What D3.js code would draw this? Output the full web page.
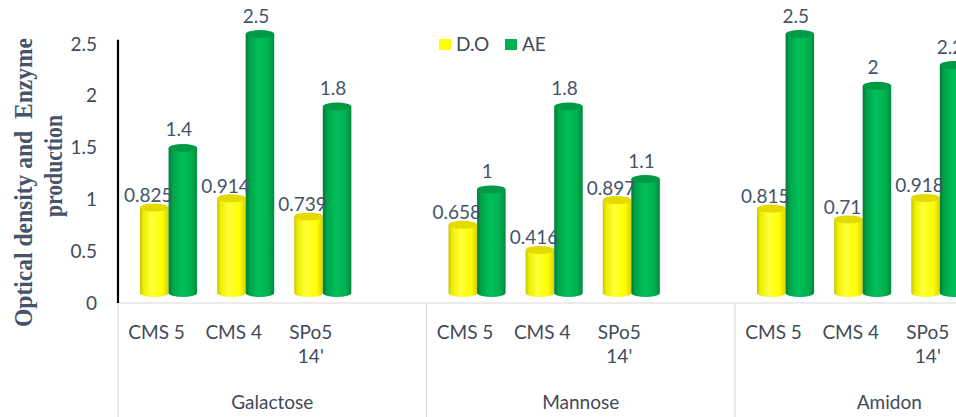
<!DOCTYPE html>
<html>
<head>
<meta charset="utf-8">
<script src="https://cdn.jsdelivr.net/npm/d3@7"></script>
<style>
  html, body { margin: 0; padding: 0; background: #ffffff; }
  svg { display: block; }
</style>
</head>
<body>
<svg id="chart" width="956" height="417"></svg>
<script>
// ---- data ----
const groups = ["Galactose", "Mannose", "Amidon"];
const strains = ["CMS 5", "CMS 4", "SPo5 14'"];
const seriesNames = ["D.O", "AE"];
const doValues = [
  [0.825, 0.914, 0.739],
  [0.658, 0.416, 0.897],
  [0.815, 0.71, 0.918]
];
const aeValues = [
  [1.4, 2.5, 1.8],
  [1, 1.8, 1.1],
  [2.5, 2, 2.2]
];
const yTicks = [0, 0.5, 1, 1.5, 2, 2.5];
const yTitleLines = ["Optical density and  Enzyme", "production"];

// ---- setup ----
const W = 956, H = 417;
const svg = d3.select("#chart");
const FONT = "Lato, 'Open Sans', sans-serif";
const textColor = "#3f4a5a";
const labelColor = "#44546a";
const gridColor = "#d9d9d9";

const plotLeft = 118, groupW = 308.5;
const y = d3.scaleLinear().domain([0, 2.5]).range([303, 44]);
const x0 = d3.scaleBand().domain(groups).range([plotLeft, plotLeft + groupW * groups.length]);
// each group has 4 slots: three strains and one empty slot
const x1 = d3.scaleBand().domain([...strains, "_blank"]).range([0, x0.bandwidth()]);
const depth = { dx: 12, dy: -10 };
const barW = x1.bandwidth() * 0.37;
const ry = 4;

// gradients
const defs = svg.append("defs");
function grad(id, stops) {
  const g = defs.append("linearGradient").attr("id", id)
    .attr("x1", "0%").attr("x2", "100%").attr("y1", "0%").attr("y2", "0%");
  stops.forEach(([o, c]) => g.append("stop").attr("offset", o).attr("stop-color", c));
}
grad("gYellow", [[0, "#c9c200"], [0.12, "#eeee00"], [0.4, "#ffff3a"], [0.78, "#ffff00"], [1, "#d9d200"]]);
grad("gGreen", [[0, "#007c37"], [0.15, "#00a449"], [0.45, "#00c05a"], [0.8, "#00b04f"], [1, "#008a3e"]]);
const seriesStyle = [
  { fill: "url(#gYellow)", top: "#e4da00", legend: "#ffff00", labelDx: -6, labelDy: -5.5 },
  { fill: "url(#gGreen)", top: "#009a45", legend: "#00b050", labelDx: -4, labelDy: -11.5 }
];

// ---- axes lines ----
svg.append("line")
  .attr("x1", plotLeft).attr("x2", W).attr("y1", y(0)).attr("y2", y(0))
  .attr("stroke", gridColor).attr("stroke-width", 1.2);
[...groups.map(g => x0(g)), x0(groups[groups.length - 1]) + x0.bandwidth()].forEach(xv => {
  svg.append("line")
    .attr("x1", xv).attr("x2", xv).attr("y1", y(0)).attr("y2", H)
    .attr("stroke", gridColor).attr("stroke-width", 1.2);
});

// y axis
const yAxis = d3.axisLeft(y).tickValues(yTicks).tickSize(0).tickPadding(21)
  .tickFormat(d3.format("~g"));
const gy = svg.append("g").attr("transform", `translate(${plotLeft},0)`).call(yAxis);
gy.select(".domain").remove();
gy.selectAll("text").attr("font-family", FONT).attr("font-size", 19).attr("fill", textColor);
svg.append("line")
  .attr("x1", plotLeft).attr("x2", plotLeft).attr("y1", y(2.54)).attr("y2", y(0))
  .attr("stroke", "#000").attr("stroke-width", 2.2);

// y title
yTitleLines.forEach((t, i) => {
  const cx = [32, 62][i], cy = [182.5, 166][i], len = [289, 102][i];
  svg.append("text")
    .attr("transform", `translate(${cx},${cy}) rotate(-90)`)
    .attr("text-anchor", "middle")
    .attr("font-family", "'Liberation Serif', 'Times New Roman', serif")
    .attr("font-weight", "bold").attr("font-size", 26)
    .attr("fill", "#44546a")
    .style("white-space", "pre")
    .attr("textLength", len).attr("lengthAdjust", "spacingAndGlyphs")
    .text(t);
});

// ---- category labels ----
groups.forEach(g => {
  strains.forEach(s => {
    const cx = x0(g) + x1(s) + x1.bandwidth() / 2;
    const words = s === "SPo5 14'" ? ["SPo5", "14'"] : [s];
    const t = svg.append("text").attr("text-anchor", "middle")
      .attr("font-family", FONT).attr("font-size", 19).attr("fill", textColor);
    words.forEach((w, i) => t.append("tspan").attr("x", cx).attr("y", 339 + i * 24).text(w));
  });
  svg.append("text").attr("text-anchor", "middle")
    .attr("x", x0(g) + x0.bandwidth() / 2).attr("y", 409)
    .attr("font-family", FONT).attr("font-size", 19).attr("fill", textColor)
    .text(g);
});

// ---- cylinders ----
const bars = [];
groups.forEach((g, gi) => {
  strains.forEach((s, si) => {
    [doValues[gi][si], aeValues[gi][si]].forEach((v, k) => {
      const center = x0(g) + x1(s) + x1.bandwidth() / 2 + depth.dx;
      const xc = k === 0 ? center - barW / 2 : center + barW / 2;
      bars.push({ v, k, xc });
    });
  });
});

const barG = svg.append("g");
bars.forEach(b => {
  const st = seriesStyle[b.k];
  const l = b.xc - barW / 2, r = b.xc + barW / 2, rx = barW / 2;
  const ty = y(b.v) + depth.dy, by = y(0) + depth.dy;
  barG.append("path")
    .attr("d", `M${l},${ty} L${l},${by} A${rx},${ry} 0 0 0 ${r},${by} L${r},${ty} Z`)
    .attr("fill", st.fill);
  barG.append("ellipse")
    .attr("cx", b.xc).attr("cy", ty).attr("rx", rx).attr("ry", ry)
    .attr("fill", st.top);
});

// ---- data labels ----
bars.forEach(b => {
  const st = seriesStyle[b.k];
  svg.append("text").attr("text-anchor", "middle")
    .attr("x", b.xc + st.labelDx)
    .attr("y", y(b.v) + depth.dy + st.labelDy)
    .attr("font-family", FONT).attr("font-size", 19).attr("fill", labelColor)
    .text(d3.format("~g")(b.v));
});

// ---- legend ----
const legend = svg.append("g").attr("transform", "translate(439,39)");
const legendX = [0, 66];
seriesNames.forEach((n, i) => {
  legend.append("rect").attr("x", legendX[i]).attr("y", 0).attr("width", 12).attr("height", 11)
    .attr("fill", seriesStyle[i].legend);
  legend.append("text").attr("x", legendX[i] + 17).attr("y", 12)
    .attr("font-family", FONT).attr("font-size", 19).attr("fill", textColor).text(n);
});
</script>
</body>
</html>
